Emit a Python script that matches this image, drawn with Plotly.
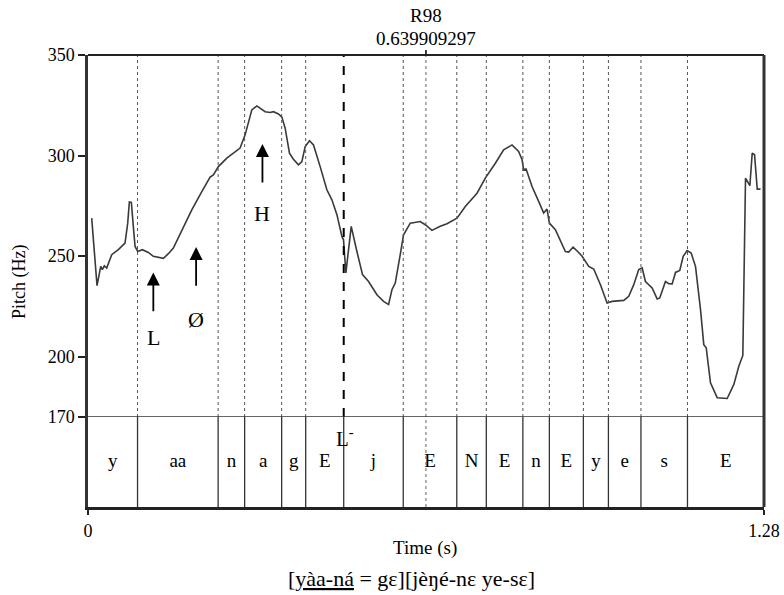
import plotly.graph_objects as go

# ---------------- data ----------------
time_s = [0.0070, 0.0171, 0.0241, 0.0271, 0.0309, 0.0354, 0.0449, 0.0574, 0.0701, 0.0752,
          0.0783, 0.0821, 0.0858, 0.0891, 0.0942, 0.1029, 0.1143, 0.1237, 0.1427, 0.1522,
          0.1616, 0.1806, 0.1965, 0.2155, 0.2312, 0.2374, 0.2469, 0.2628, 0.2786, 0.2880,
          0.2975, 0.3038, 0.3102, 0.3197, 0.3259, 0.3354, 0.3449, 0.3512, 0.3606, 0.3671,
          0.3733, 0.3815, 0.3890, 0.3985, 0.4050, 0.4112, 0.4194, 0.4270, 0.4396, 0.4523,
          0.4618, 0.4713, 0.4808, 0.4838, 0.4883, 0.4984, 0.5092, 0.5198, 0.5312, 0.5471,
          0.5596, 0.5691, 0.5755, 0.5818, 0.5912, 0.5975, 0.6102, 0.6291, 0.6386, 0.6513,
          0.6670, 0.6797, 0.6987, 0.7144, 0.7366, 0.7523, 0.7713, 0.7870, 0.8029, 0.8154,
          0.8219, 0.8249, 0.8295, 0.8408, 0.8533, 0.8628, 0.8692, 0.8736, 0.8850, 0.8944,
          0.9039, 0.9102, 0.9185, 0.9291, 0.9356, 0.9481, 0.9576, 0.9703, 0.9829, 0.9924,
          1.0144, 1.0239, 1.0334, 1.0428, 1.0493, 1.0555, 1.0682, 1.0777, 1.0826, 1.0934,
          1.0997, 1.1061, 1.1124, 1.1205, 1.1270, 1.1345, 1.1421, 1.1503, 1.1598, 1.1660,
          1.1706, 1.1787, 1.1914, 1.2103, 1.2229, 1.2323, 1.2399, 1.2450, 1.2532, 1.2577,
          1.2621, 1.2672, 1.2734]
pitch_hz = [268.9, 235.3, 244.9, 243.3, 245.2, 244.1, 250.7, 253.2, 256.5, 266.4,
            276.9, 276.7, 264.8, 254.8, 252.3, 253.2, 251.8, 249.9, 248.9, 251.2,
            254.0, 264.8, 273.0, 282.1, 289.3, 290.4, 294.5, 298.7, 302.0, 303.7,
            310.3, 316.1, 322.7, 324.7, 323.5, 321.8, 321.4, 321.8, 320.7, 319.1,
            313.6, 301.2, 298.2, 295.4, 297.0, 304.5, 307.4, 305.3, 294.5, 283.0,
            278.0, 270.6, 259.8, 258.1, 241.6, 264.8, 252.3, 240.8, 237.4, 230.8,
            227.5, 225.9, 233.3, 236.6, 250.7, 260.6, 266.4, 267.2, 265.6, 262.8,
            264.8, 266.1, 268.9, 274.7, 281.3, 288.8, 296.2, 302.8, 305.3, 302.0,
            297.9, 292.9, 293.3, 284.6, 277.2, 271.4, 273.4, 266.4, 263.1, 258.1,
            252.3, 252.0, 254.5, 251.8, 249.9, 244.9, 243.6, 235.8, 226.7, 227.5,
            228.0, 230.0, 235.8, 243.3, 244.1, 237.4, 234.2, 228.7, 229.2, 237.4,
            236.3, 236.2, 241.9, 242.9, 249.9, 252.8, 251.5, 244.9, 223.4, 206.0,
            204.4, 187.0, 179.6, 179.2, 186.2, 195.2, 200.6, 288.8, 285.0, 301.2,
            300.4, 283.3, 283.3]

seg_bounds = [0.0, 0.0938, 0.2464, 0.2966, 0.3667, 0.4122, 0.4842, 0.5969, 0.6983,
              0.7542, 0.8234, 0.8736, 0.9380, 0.9854, 1.0470, 1.1351, 1.28]
seg_labels = ['y', 'aa', 'n', 'a', 'g', 'E', 'j', 'E', 'N', 'E', 'n', 'E', 'y', 'e', 's', 'E']
accent_bound = 0.4842          # L- boundary (dashed)
r98_time = 0.639909297
y_ticks = [170, 200, 250, 300, 350]
x_ticks = [0, 1.28]
x_ticklabels = ['0', '1.28']

tone_arrows = [  # label, time, tip Hz, tail Hz, label Hz
    ('L', 0.1237, 241.9, 217.6, 209.5),
    ('Ø', 0.2047, 254.5, 230.3, 218.4),
    ('H', 0.3303, 305.8, 281.6, 271.3),
]

SERIF = 'Liberation Serif, Times New Roman, serif'
PITCH_DOM = [0.1991, 1.0]
TIER_DOM = [0.0, 0.1991]

fig = go.Figure()

fig.add_trace(go.Scatter(
    x=time_s, y=pitch_hz, mode='lines', xaxis='x', yaxis='y',
    line=dict(color='#3a3a3a', width=1.6), hoverinfo='skip', showlegend=False))

mids = [(a + b) / 2 for a, b in zip(seg_bounds[:-1], seg_bounds[1:])]
fig.add_trace(go.Scatter(
    x=mids, y=[0.5] * len(mids), mode='text', text=seg_labels, xaxis='x', yaxis='y2',
    textfont=dict(family=SERIF, size=19, color='black'), hoverinfo='skip', showlegend=False))

shapes = []
for b in seg_bounds[1:-1]:
    if abs(b - accent_bound) < 1e-9:
        shapes.append(dict(type='line', xref='x', yref='y', x0=b, x1=b, y0=170, y1=350,
                           line=dict(color='black', width=2, dash='dash')))
    else:
        shapes.append(dict(type='line', xref='x', yref='y', x0=b, x1=b, y0=170, y1=350,
                           line=dict(color='#555555', width=1, dash='dot')))
    shapes.append(dict(type='line', xref='x', yref='y2', x0=b, x1=b, y0=0, y1=1,
                       line=dict(color='#333333', width=1.3)))
# R98 marker
shapes.append(dict(type='line', xref='x', yref='paper', x0=r98_time, x1=r98_time, y0=0, y1=1,
                   line=dict(color='#666666', width=1, dash='dot')))
shapes.append(dict(type='line', xref='x', yref='paper', x0=r98_time, x1=r98_time, y0=1, y1=1 + 5 / 452,
                   line=dict(color='black', width=1.5)))
# tier separator at 170 Hz
shapes.append(dict(type='line', xref='paper', yref='y', x0=0, x1=1, y0=170, y1=170,
                   line=dict(color='#333333', width=1.3)))
# frame
shapes.append(dict(type='line', xref='paper', yref='paper', x0=0, x1=1, y0=1, y1=1,
                   line=dict(color='#222222', width=2)))
shapes.append(dict(type='line', xref='paper', yref='paper', x0=1, x1=1, y0=0, y1=1,
                   line=dict(color='#333333', width=3)))

annotations = []
for lab, t, tip, tail, lab_y in tone_arrows:
    annotations.append(dict(x=t, y=tip, ax=t, ay=tail, xref='x', yref='y', axref='x', ayref='y',
                            text=' ', showarrow=True, arrowhead=2, arrowsize=1.45, arrowwidth=1.8,
                            arrowcolor='black', standoff=0, startstandoff=0))
    annotations.append(dict(x=t, y=lab_y, xref='x', yref='y', text=lab, showarrow=False,
                            xanchor='center', yanchor='middle',
                            font=dict(family=SERIF, size=22, color='black')))


def ptext(x, y, text, size, **kw):
    d = dict(x=x, y=y, text=text, showarrow=False, xanchor='center', yanchor='middle',
             font=dict(family=SERIF, size=size, color='black'))
    d.update(kw)
    return d


annotations += [
    ptext(accent_bound + 0.003, 0.77, 'L<sup>-</sup>', 21, xref='x', yref='y2'),
    ptext(r98_time, (507 - 15) / 452, 'R98', 19, xref='x', yref='paper'),
    ptext(r98_time, (507 - 38) / 452, '0.639909297', 19, xref='x', yref='paper'),
    ptext((19 - 88) / 676, (507 - 282) / 452, 'Pitch (Hz)', 18, xref='paper', yref='paper',
          textangle=-90),
    ptext((425 - 88) / 676, (507 - 548) / 452, 'Time (s)', 19, xref='paper', yref='paper'),
    ptext((411 - 88) / 676, (507 - 578) / 452, '[<u>yàa-ná</u> = gɛ][jèŋé-nɛ ye-sɛ]', 22,
          xref='paper', yref='paper'),
]

fig.update_layout(
    template='none',
    width=784, height=595,
    margin=dict(l=88, r=20, t=55, b=88, autoexpand=False),
    paper_bgcolor='white', plot_bgcolor='white',
    showlegend=False,
    shapes=shapes, annotations=annotations,
    xaxis=dict(domain=[0, 1], range=[0, 1.28], anchor='y2', tickvals=x_ticks, ticktext=x_ticklabels,
               ticks='outside', ticklen=5, tickwidth=1.5, tickcolor='#222222', automargin=False,
               showline=True, linewidth=3, linecolor='#222222', showgrid=False, zeroline=False,
               tickfont=dict(family=SERIF, size=18, color='black')),
    yaxis=dict(domain=PITCH_DOM, range=[170, 350], anchor='x', tickvals=y_ticks, automargin=False,
               ticks='outside', ticklen=7, tickwidth=1.5, tickcolor='#222222',
               showline=True, linewidth=2.5, linecolor='#333333', showgrid=False, zeroline=False,
               tickfont=dict(family=SERIF, size=18, color='black')),
    yaxis2=dict(domain=TIER_DOM, range=[0, 1], anchor='x', showticklabels=False, ticks='',
                automargin=False,
                showline=True, linewidth=2.5, linecolor='#333333', showgrid=False, zeroline=False),
)

fig.write_html('out.html', config={'displayModeBar': False},
               post_script="document.body.style.margin='0';document.body.style.padding='0';")
